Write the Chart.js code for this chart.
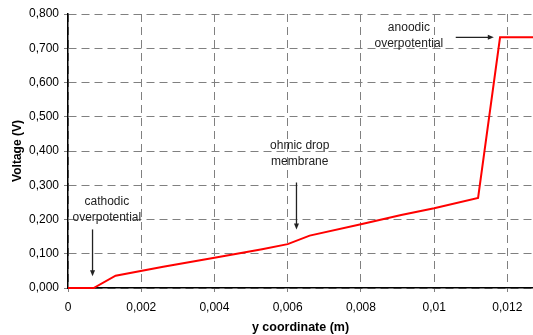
<!DOCTYPE html>
<html>
<head>
<meta charset="utf-8">
<script src="https://cdn.jsdelivr.net/npm/chart.js@4.4.1/dist/chart.umd.min.js"></script>
<style>
  html, body { margin: 0; padding: 0; background: #fff; }
  canvas { display: block; }
</style>
</head>
<body>
<canvas id="chart-canvas" width="533" height="335"></canvas>
<script>
'use strict';

// y coordinate (m) and voltage (V)
var Y_COORD = [0, 0.0007, 0.0013, 0.0026, 0.0040, 0.0053, 0.0060, 0.0066, 0.0080, 0.0091, 0.0100, 0.0112, 0.0118, 0.0127];
var VOLTAGE = [0, 0, 0.036, 0.062, 0.088, 0.113, 0.128, 0.153, 0.186, 0.213, 0.233, 0.263, 0.732, 0.732];

var X_MAX = 0.0127;
var Y_MAX = 0.8;

// annotations in data units: text lines, text anchor, arrow start/end
var NOTE_LINES  = [['cathodic', 'overpotential'], ['ohmic drop', 'membrane'], ['anoodic', 'overpotential']];
var NOTE_X      = [0.00106, 0.00633, 0.00931];
var NOTE_Y      = [0.253, 0.416, 0.760];
var ARROW_FROM  = [[0.00067, 0.171], [0.00624, 0.308], [0.01059, 0.732]];
var ARROW_TO    = [[0.00067, 0.034], [0.00624, 0.171], [0.01163, 0.732]];

var FONT = '"Liberation Sans", Arial, sans-serif';

var points = Y_COORD.map(function(x, i) {
	return { x: x, y: VOLTAGE[i] };
});

function arrow(ctx, x1, y1, x2, y2) {
	var ang = Math.atan2(y2 - y1, x2 - x1);
	ctx.beginPath();
	ctx.moveTo(x1, y1);
	ctx.lineTo(x2 - 5 * Math.cos(ang), y2 - 5 * Math.sin(ang));
	ctx.stroke();
	ctx.beginPath();
	ctx.moveTo(x2, y2);
	ctx.lineTo(x2 - 6 * Math.cos(ang) + 2.5 * Math.sin(ang), y2 - 6 * Math.sin(ang) - 2.5 * Math.cos(ang));
	ctx.lineTo(x2 - 6 * Math.cos(ang) - 2.5 * Math.sin(ang), y2 - 6 * Math.sin(ang) + 2.5 * Math.cos(ang));
	ctx.closePath();
	ctx.fill();
}

var notesPlugin = {
	id: 'notes',
	afterDraw: function(chart) {
		var ctx = chart.ctx;
		var xs = chart.scales.x, ys = chart.scales.y;
		ctx.save();
		ctx.fillStyle = '#222';
		ctx.strokeStyle = '#222';
		ctx.lineWidth = 1.3;
		ctx.font = '12px ' + FONT;
		ctx.textAlign = 'center';
		ctx.textBaseline = 'middle';
		NOTE_LINES.forEach(function(lines, i) {
			var px = xs.getPixelForValue(NOTE_X[i]);
			var py = ys.getPixelForValue(NOTE_Y[i]);
			lines.forEach(function(t, j) {
				ctx.fillText(t, px, py + j * 16);
			});
			arrow(ctx,
				xs.getPixelForValue(ARROW_FROM[i][0]), ys.getPixelForValue(ARROW_FROM[i][1]),
				xs.getPixelForValue(ARROW_TO[i][0]), ys.getPixelForValue(ARROW_TO[i][1]));
		});
		ctx.restore();
	}
};

var ctx = document.getElementById('chart-canvas');

var myChart = new Chart(ctx, {
	type: 'line',
	data: {
		datasets: [{
			data: points,
			borderColor: '#ff0000',
			borderWidth: 2,
			pointRadius: 0,
			tension: 0,
			fill: false,
			clip: 4
		}]
	},
	options: {
		responsive: false,
		animation: false,
		layout: { padding: { top: 14, left: 0, right: 0, bottom: 0 } },
		plugins: {
			legend: { display: false },
			tooltip: { enabled: false }
		},
		scales: {
			x: {
				type: 'linear',
				min: 0,
				max: X_MAX,
				afterFit: function(scale) { scale.height = 47; },
				ticks: {
					stepSize: 0.002,
					includeBounds: false,
					color: '#000',
					padding: 8,
					maxRotation: 0,
					font: { family: FONT, size: 12 },
					callback: function(v) {
						return String(Math.round(v * 1000) / 1000).replace('.', ',');
					}
				},
				grid: { color: '#808080', lineWidth: 1, tickLength: 4 },
				border: { display: true, color: '#000', width: 1.5, dash: [8, 5] },
				title: {
					display: true,
					text: 'y coordinate (m)',
					color: '#000',
					font: { family: FONT, size: 12.5, weight: 'bold' },
					padding: { top: 0, bottom: 0 }
				}
			},
			y: {
				min: 0,
				max: Y_MAX,
				afterFit: function(scale) { scale.width = 68; },
				ticks: {
					stepSize: 0.1,
					color: '#000',
					padding: 5,
					font: { family: FONT, size: 12 },
					callback: function(v) {
						return v.toFixed(3).replace('.', ',');
					}
				},
				grid: { color: '#808080', lineWidth: 1, tickLength: 4 },
				border: { display: true, color: '#000', width: 1.5, dash: [8, 5] },
				title: {
					display: true,
					text: 'Voltage (V)',
					color: '#000',
					font: { family: FONT, size: 12, weight: 'bold' },
					padding: { top: 10, bottom: 4 }
				}
			}
		}
	},
	plugins: [notesPlugin]
});
</script>
</body>
</html>
